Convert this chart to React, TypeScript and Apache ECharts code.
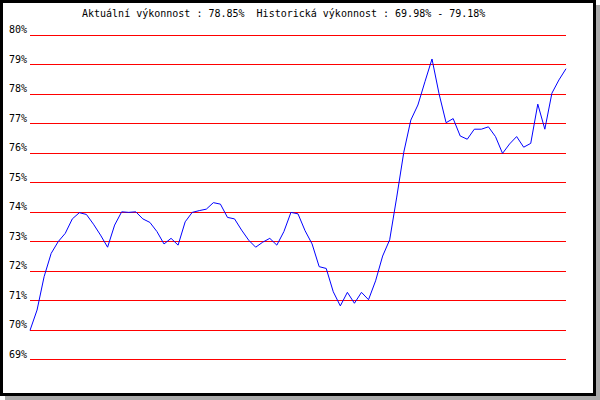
import React, { useEffect, useRef } from "react";
import * as echarts from "echarts";

const titleText = "Aktuální výkonnost : 78.85%  Historická výkonnost : 69.98% - 79.18%";

const values: number[] = [
  69.98, 70.67, 71.8, 72.59, 72.99, 73.27, 73.76, 73.97, 73.91, 73.58,
  73.21, 72.8, 73.55, 74.0, 73.98, 74.0, 73.76, 73.64, 73.33, 72.91,
  73.1, 72.87, 73.66, 73.98, 74.04, 74.09, 74.31, 74.26, 73.81, 73.76,
  73.38, 73.04, 72.8, 72.97, 73.1, 72.87, 73.33, 73.98, 73.93, 73.36,
  72.91, 72.14, 72.08, 71.29, 70.81, 71.27, 70.9, 71.27, 71.02, 71.66,
  72.5, 73.05, 74.5, 76.02, 77.11, 77.62, 78.41, 79.18, 78.0, 77.02,
  77.16, 76.57, 76.46, 76.8, 76.8, 76.88, 76.55, 75.98, 76.3, 76.55,
  76.19, 76.32, 77.65, 76.8, 78.02, 78.47, 78.85,
];

const categories: string[] = values.map((_, i) => String(i + 1));

const yMin = 69;
const yMax = 80;
const yStep = 1;

export default function App() {
  const ref = useRef<HTMLDivElement>(null);

  useEffect(() => {
    document.body.style.margin = "0";
    if (!ref.current) return;
    const chart = echarts.init(ref.current, null, { renderer: "svg" });
    const font = "'DejaVu Sans Mono', monospace";
    chart.setOption({
      animation: false,
      backgroundColor: "transparent",
      graphic: [
        {
          type: "rect",
          z: -10,
          silent: true,
          shape: { x: 5, y: 5, width: 595, height: 395 },
          style: { fill: "#aaaaaa" },
        },
        {
          type: "rect",
          z: -9,
          silent: true,
          shape: { x: 1.5, y: 1.5, width: 593, height: 393 },
          style: { fill: "#ffffff", stroke: "#000000", lineWidth: 3 },
        },
        {
          type: "text",
          x: 82,
          y: 13.5,
          style: {
            text: titleText,
            fontFamily: font,
            fontSize: 10,
            fill: "#000000",
            align: "left",
            verticalAlign: "middle",
          },
        },
      ],
      grid: { left: 30, right: 34, top: 34.8, bottom: 40.7, containLabel: false },
      xAxis: {
        type: "category",
        data: categories,
        boundaryGap: false,
        show: false,
      },
      yAxis: {
        type: "value",
        min: yMin,
        max: yMax,
        interval: yStep,
        axisLine: { show: false },
        axisTick: { show: false },
        axisLabel: {
          formatter: (v: number) => `${v}%`,
          color: "#000000",
          fontFamily: font,
          fontSize: 10,
          margin: 3,
          verticalAlign: "bottom",
        },
        splitLine: { show: true, lineStyle: { color: "#ff0000", width: 1 } },
      },
      series: [
        {
          type: "line",
          data: values,
          showSymbol: false,
          symbol: "none",
          lineStyle: { color: "#0000ff", width: 1 },
          itemStyle: { color: "#0000ff" },
        },
      ],
    });
    return () => chart.dispose();
  }, []);

  return <div ref={ref} style={{ width: 600, height: 400 }} />;
}
